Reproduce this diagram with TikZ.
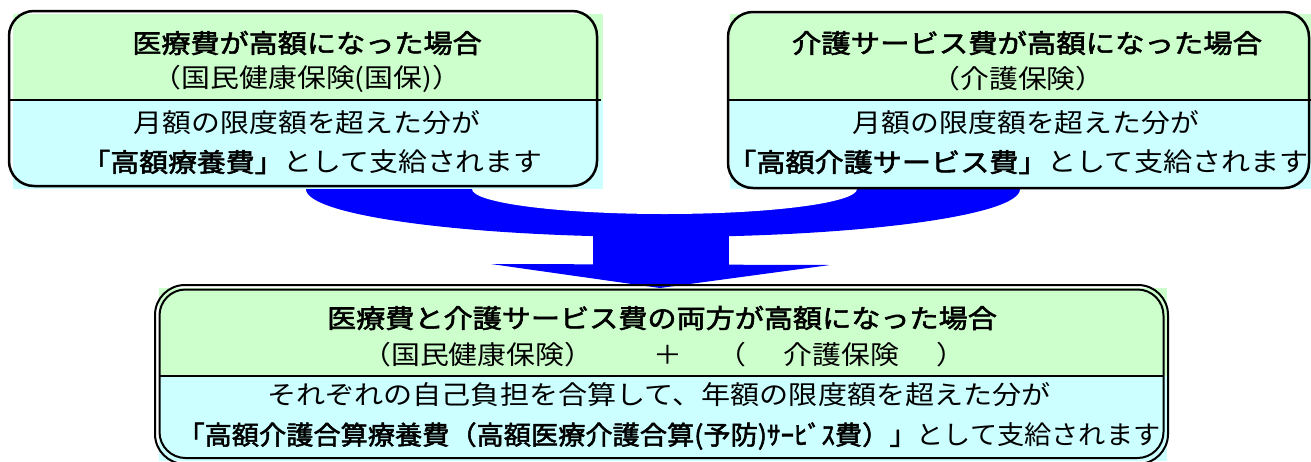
\documentclass[tikz,border=0pt]{standalone}
\usepackage{fontspec}
\usepackage{graphicx}
\setmainfont{Noto Sans CJK JP}[BoldFont={Noto Sans CJK JP}, BoldFeatures={FakeBold=2}]
\definecolor{gfill}{HTML}{CCFFCC}
\definecolor{cfill}{HTML}{CCFFFF}
\definecolor{arrowblue}{HTML}{0000FF}
\newcommand{\stretchtxt}[2][1.11]{\scalebox{#1}[1]{#2}}
\begin{document}
\begin{tikzpicture}[x=1pt,y=-1pt,
  txt/.style={font=\fontsize{26}{26}\selectfont, inner sep=0pt, text=black, anchor=center},
  bx/.style={draw=black, line width=2.5pt, rounded corners=25pt},
  dbx/.style={draw=black, line width=2pt},
  divider/.style={draw=black, line width=2pt},
  blueshape/.style={fill=arrowblue}]
\useasboundingbox (0,0) rectangle (1311,461);
% ---- blue merging arrow
\begin{scope}
  \clip (0,189) rectangle (1311,300);
  \fill[blueshape] (663,189) ellipse [x radius=357, y radius=48];
  \fill[white] (664.5,189) ellipse [x radius=192.5, y radius=25];
\end{scope}
\fill[blueshape] (593,228) rectangle (729,266);
\fill[blueshape] (491,264) -- (830,265) -- (660,288) -- cycle;
% ---- left box
\fill[gfill] (13,14) rectangle (603,100);
\fill[cfill] (13,100) rectangle (603,189);
\draw[bx] (9,11) rectangle (597,186);
\draw[divider] (9,100) -- (601,100);
\node[txt] (l1) at (307,43) {\stretchtxt[1.12]{\bfseries 医療費が高額になった場合}};
\node[txt] (l2) at (307,79) {\stretchtxt{（国民健康保険(国保)）}};
\node[txt] (l3) at (307,123) {\stretchtxt{月額の限度額を超えた分が}};
\node[txt] (l4) at (312,162) {\stretchtxt{{\bfseries 「高額療養費」}として支給されます}};
% ---- right box
\fill[gfill] (730,14) rectangle (1311,100);
\fill[cfill] (730,100) rectangle (1311,189);
\draw[bx] (728,12) rectangle (1309,188);
\draw[divider] (728,100) -- (1311,100);
\node[txt] (r1) at (1027,43) {\stretchtxt[1.13]{\bfseries 介護サービス費が高額になった場合}};
\node[txt] (r2) at (1018,79) {\stretchtxt{（介護保険）}};
\node[txt] (r3) at (1026,123) {\stretchtxt{月額の限度額を超えた分が}};
\node[txt] (r4) at (1018,162) {\stretchtxt[1.12]{{\bfseries 「高額介護サービス費」}として支給されます}};
% ---- bottom box
\fill[gfill] (159,288) rectangle (1167,376);
\fill[cfill] (159,376) rectangle (1167,461);
\draw[dbx, rounded corners=30pt] (155,285) rectangle (1168,464);
\draw[dbx, rounded corners=26pt] (159.5,289.5) rectangle (1163.5,458);
\draw[divider] (159,376) -- (1164,376);
\node[txt] (b1) at (662,318) {\stretchtxt[1.12]{\bfseries 医療費と介護サービス費の両方が高額になった場合}};
\node[txt] (b2) at (664,355) {\stretchtxt{（国民健康保険）\hspace{2.1em}＋\hspace{1.2em}（\hspace{1.3em}介護保険\hspace{1.3em}）}};
\node[txt] (b3) at (659,395) {\stretchtxt[1.12]{それぞれの自己負担を合算して、年額の限度額を超えた分が}};
\node[txt] (b4) at (669,436) {\stretchtxt[1.046]{{\bfseries 「高額介護合算療養費（高額医療介護合算(予防)ｻｰﾋﾞｽ費）」}として支給されます}};
\end{tikzpicture}
\end{document}
